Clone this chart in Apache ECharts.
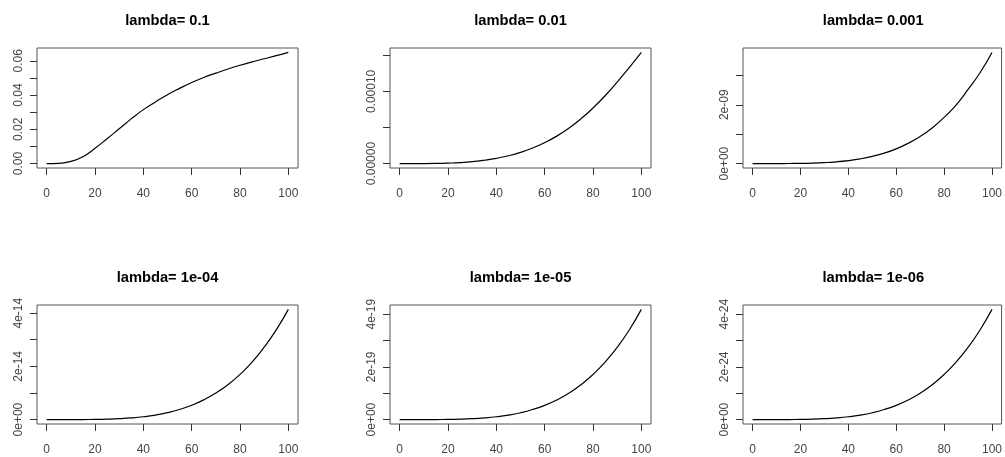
<!DOCTYPE html>
<html>
<head>
    <meta charset="utf-8">
    <title>lambda</title>
    <script type="text/javascript" src="https://cdn.jsdelivr.net/npm/echarts@6/dist/echarts.min.js"></script>
</head>
<body style="margin:0;background:#fff;">
<div id="main" style="width: 1005px;height:457px;"></div>
<script type="text/javascript">

    // x values, same for all six panels
    var xs = [0, 5, 10, 15, 20, 25, 30, 35, 40, 45, 50, 55, 60, 65, 70, 75, 80, 85, 90, 95, 100];
    var xTicks = [0, 20, 40, 60, 80, 100];

    var titles = ['lambda= 0.1', 'lambda= 0.01', 'lambda= 0.001', 'lambda= 1e-04', 'lambda= 1e-05', 'lambda= 1e-06'];

    // curves
    var y1 = [0, 0.0001, 0.0013, 0.0040, 0.0089, 0.0145, 0.0203, 0.0261, 0.0315, 0.0360, 0.0402,
        0.0439, 0.0473, 0.0503, 0.0528, 0.0552, 0.0574, 0.0594, 0.0612, 0.0630, 0.0649];
    var y2 = [0, 0, 0.00000003, 0.0000002, 0.0000006, 0.0000013, 0.0000026, 0.0000046, 0.0000072, 0.0000108, 0.0000155,
        0.0000215, 0.000029, 0.000038, 0.000049, 0.000062, 0.000077, 0.000094, 0.000113, 0.000133, 0.000154];
    var y3 = [0, 0, 0.0004e-9, 0.002e-9, 0.0064e-9, 0.0155e-9, 0.032e-9, 0.059e-9, 0.101e-9, 0.161e-9, 0.245e-9,
        0.355e-9, 0.50e-9, 0.69e-9, 0.92e-9, 1.21e-9, 1.57e-9, 1.99e-9, 2.52e-9, 3.09e-9, 3.78e-9];
    var y4 = [0, 0.00003e-14, 0.0004e-14, 0.0021e-14, 0.0066e-14, 0.0162e-14, 0.0335e-14, 0.062e-14, 0.106e-14, 0.17e-14, 0.26e-14,
        0.38e-14, 0.537e-14, 0.74e-14, 0.995e-14, 1.31e-14, 1.70e-14, 2.16e-14, 2.72e-14, 3.37e-14, 4.14e-14];
    var y5 = [0, 0.00003e-19, 0.0004e-19, 0.0021e-19, 0.0067e-19, 0.0163e-19, 0.034e-19, 0.063e-19, 0.107e-19, 0.171e-19, 0.261e-19,
        0.383e-19, 0.54e-19, 0.745e-19, 1.00e-19, 1.32e-19, 1.71e-19, 2.18e-19, 2.74e-19, 3.40e-19, 4.18e-19];
    var y6 = [0, 0.00003e-24, 0.0004e-24, 0.0021e-24, 0.0067e-24, 0.0163e-24, 0.034e-24, 0.063e-24, 0.107e-24, 0.171e-24, 0.261e-24,
        0.383e-24, 0.54e-24, 0.745e-24, 1.00e-24, 1.32e-24, 1.71e-24, 2.18e-24, 2.74e-24, 3.40e-24, 4.18e-24];

    // y ticks and the labels R kept
    var yTicks1 = [0, 0.01, 0.02, 0.03, 0.04, 0.05, 0.06];
    var yLabVals1 = [0, 0.02, 0.04, 0.06];
    var yLabText1 = ['0.00', '0.02', '0.04', '0.06'];
    var yTicks2 = [0, 0.00005, 0.0001, 0.00015];
    var yLabVals2 = [0, 0.0001];
    var yLabText2 = ['0.00000', '0.00010'];
    var yTicks3 = [0, 1e-9, 2e-9, 3e-9];
    var yLabVals3 = [0, 2e-9];
    var yLabText3 = ['0e+00', '2e-09'];
    var yTicks4 = [0, 1e-14, 2e-14, 3e-14, 4e-14];
    var yLabVals4 = [0, 2e-14, 4e-14];
    var yLabText4 = ['0e+00', '2e-14', '4e-14'];
    var yTicks5 = [0, 1e-19, 2e-19, 3e-19, 4e-19];
    var yLabVals5 = [0, 2e-19, 4e-19];
    var yLabText5 = ['0e+00', '2e-19', '4e-19'];
    var yTicks6 = [0, 1e-24, 2e-24, 3e-24, 4e-24];
    var yLabVals6 = [0, 2e-24, 4e-24];
    var yLabText6 = ['0e+00', '2e-24', '4e-24'];

    var ys = [y1, y2, y3, y4, y5, y6];
    var yTicks = [yTicks1, yTicks2, yTicks3, yTicks4, yTicks5, yTicks6];
    var yLabVals = [yLabVals1, yLabVals2, yLabVals3, yLabVals4, yLabVals5, yLabVals6];
    var yLabText = [yLabText1, yLabText2, yLabText3, yLabText4, yLabText5, yLabText6];

    // panel boxes
    var lefts = [37, 390, 743];
    var widths = [261, 261, 260.5];
    var tops = [48, 305];
    var heights = [120, 119];

    var font = 'Liberation Sans, Arial, sans-serif';
    var myChart = echarts.init(document.getElementById('main'));

    var grid = [], xAxis = [], yAxis = [], series = [], title = [];

    for (var i = 0; i < 6; i++) {
        var col = i % 3, row = Math.floor(i / 3);
        var data = ys[i];
        var lo = Math.min.apply(null, data), hi = Math.max.apply(null, data);
        var pad = (hi - lo) * 0.04;

        grid.push({
            left: lefts[col], top: tops[row], width: widths[col], height: heights[row],
            show: true, borderColor: '#555', borderWidth: 1, backgroundColor: 'transparent'
        });

        title.push({
            text: titles[i],
            left: lefts[col] + widths[col] / 2,
            top: tops[row] - 35,
            textAlign: 'center',
            padding: 0,
            textStyle: { fontFamily: font, fontSize: 14.7, fontWeight: 'bold', color: '#000' }
        });

        xAxis.push({
            type: 'value', gridIndex: i, min: -4, max: 104,
            axisLine: { show: false, onZero: false },
            splitLine: { show: false },
            axisTick: { show: true, inside: false, length: 7, customValues: xTicks, lineStyle: { color: '#333' } },
            axisLabel: { customValues: xTicks, margin: 20, color: '#444', fontFamily: font, fontSize: 12 }
        });

        (function (vals, texts) {
            yAxis.push({
                type: 'value', gridIndex: i, min: lo - pad, max: hi + pad,
                axisLine: { show: false, onZero: false },
                splitLine: { show: false },
                axisTick: { show: true, inside: false, length: 7, customValues: yTicks[i], lineStyle: { color: '#333' } },
                axisLabel: {
                    customValues: vals, rotate: 90, margin: 12, color: '#444', fontFamily: font, fontSize: 12,
                    formatter: function (v) {
                        var tol = Math.abs(vals[vals.length - 1]) * 1e-6;
                        for (var k = 0; k < vals.length; k++) {
                            if (Math.abs(v - vals[k]) <= tol) return texts[k];
                        }
                        return '';
                    }
                }
            });
        })(yLabVals[i], yLabText[i]);

        series.push({
            type: 'line', xAxisIndex: i, yAxisIndex: i,
            data: xs.map(function (x, j) { return [x, data[j]]; }),
            showSymbol: false, smooth: 0.5,
            lineStyle: { color: '#000', width: 1.2 },
            silent: true, animation: false
        });
    }

    myChart.setOption({
        animation: false,
        title: title,
        grid: grid,
        xAxis: xAxis,
        yAxis: yAxis,
        series: series
    });

</script>
</body>
</html>
